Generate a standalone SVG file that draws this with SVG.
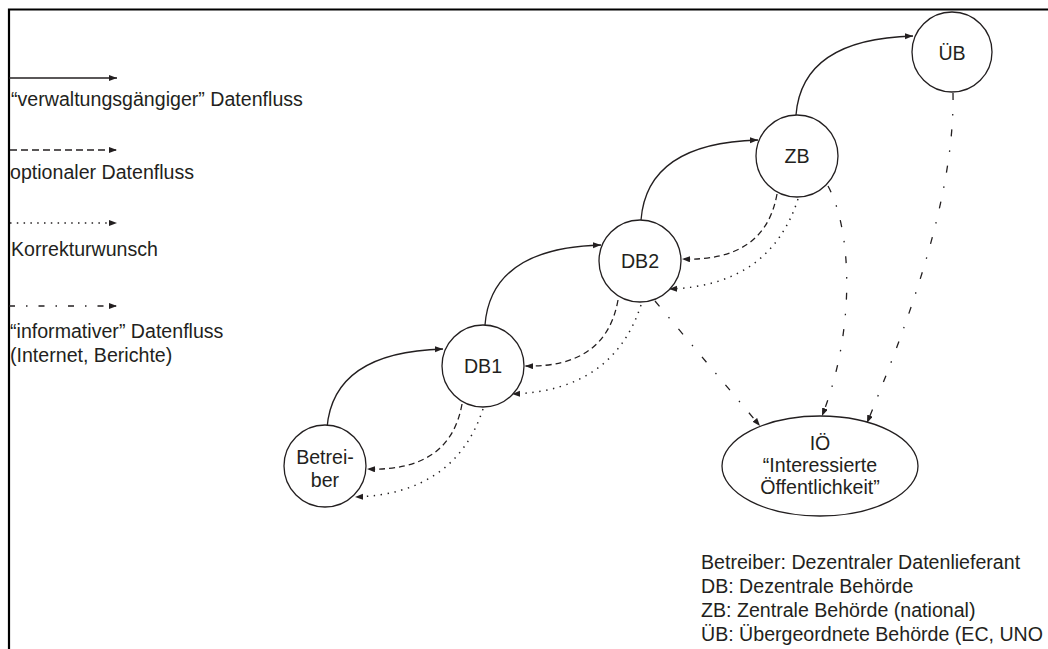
<svg xmlns="http://www.w3.org/2000/svg" width="1048" height="649" viewBox="0 0 1048 649">
<defs>
<style>
text{font-family:"Liberation Sans",Arial,sans-serif;font-size:19.6px;fill:#231f20}
.c{text-anchor:middle}
.node{fill:#fff;stroke:#231f20;stroke-width:1.3}
.ln{fill:none;stroke:#231f20;stroke-width:1.3}
.solid{marker-end:url(#ah)}
.dash{stroke-dasharray:6,4;marker-end:url(#ah)}
.dot{stroke-dasharray:1.4,5.6;stroke-width:1.5;marker-end:url(#ah)}
.dd{stroke-dasharray:7,14,1.5,14;marker-end:url(#ah)}
</style>
<marker id="ah" markerUnits="userSpaceOnUse" markerWidth="9" markerHeight="7" refX="8" refY="3" orient="auto">
<path d="M0,0 L8,3 L0,6 z" fill="#231f20"/>
</marker>
</defs>
<rect width="1048" height="649" fill="#fff"/>
<g id="frame" stroke="#000" stroke-width="2.2" fill="none">
<path d="M9,649 V9.5 H1048"/>
</g>
<g id="legend">
<path class="ln solid" d="M9,78 H117"/>
<text x="11" y="106">“verwaltungsgängiger” Datenfluss</text>
<path class="ln" style="stroke-dasharray:7,4;marker-end:url(#ah)" d="M10,150 H117"/>
<text x="10" y="179">optionaler Datenfluss</text>
<path class="ln" style="stroke-dasharray:1.5,5.3;stroke-width:1.5;marker-end:url(#ah)" d="M10,223 H117"/>
<text x="11" y="256">Korrekturwunsch</text>
<path class="ln" style="stroke-dasharray:6,11,1.5,11;marker-end:url(#ah)" d="M9,306 H117"/>
<text x="10" y="338">“informativer” Datenfluss</text>
<text x="10" y="362">(Internet, Berichte)</text>
</g>
<g id="connectors">
<path class="ln solid" d="M327,428 Q333,352 443,349"/>
<path class="ln solid" d="M485,325 Q491,248 601,245"/>
<path class="ln solid" d="M641,220 Q647,143 758,140"/>
<path class="ln solid" d="M796,115 Q802,39 913,36"/>
<path class="ln dash" d="M777,194 Q765,262 682,259"/>
<path class="ln dash" d="M618,300 Q606,368 525,366"/>
<path class="ln dash" d="M462,404 Q450,472 367,469"/>
<path class="ln dot" d="M798,199 Q770,286 669,289"/>
<path class="ln dot" d="M641,305 Q613,391 512,394"/>
<path class="ln dot" d="M483,409 Q455,494 355,497"/>
<path class="ln dd" d="M655,301 L760,426"/>
<path class="ln dd" d="M828,186 C852,230 856,330 822,416"/>
<path class="ln dd" d="M953,93 C955,200 905,330 867,423"/>
</g>
<g id="betreiber">
<circle class="node" cx="325" cy="466" r="41"/>
<text class="c" x="325" y="464">Betrei-</text>
<text class="c" x="325" y="487">ber</text>
</g>
<g id="db1">
<circle class="node" cx="483" cy="366" r="41"/>
<text class="c" x="483" y="373">DB1</text>
</g>
<g id="db2">
<circle class="node" cx="640" cy="261" r="41"/>
<text class="c" x="640" y="268">DB2</text>
</g>
<g id="zb">
<circle class="node" cx="797" cy="156" r="41"/>
<text class="c" x="797" y="163">ZB</text>
</g>
<g id="ub">
<circle class="node" cx="952" cy="52" r="40"/>
<text class="c" x="952" y="60">ÜB</text>
</g>
<g id="io">
<ellipse class="node" cx="820" cy="466" rx="98" ry="50"/>
<text class="c" x="820" y="450">IÖ</text>
<text class="c" x="820" y="472">“Interessierte</text>
<text class="c" x="820" y="494">Öffentlichkeit”</text>
</g>
<g id="abbrev">
<text x="701" y="569">Betreiber: Dezentraler Datenlieferant</text>
<text x="701" y="593">DB: Dezentrale Behörde</text>
<text x="701" y="617">ZB: Zentrale Behörde (national)</text>
<text x="701" y="641">ÜB: Übergeordnete Behörde (EC, UNO</text>
</g>
</svg>
